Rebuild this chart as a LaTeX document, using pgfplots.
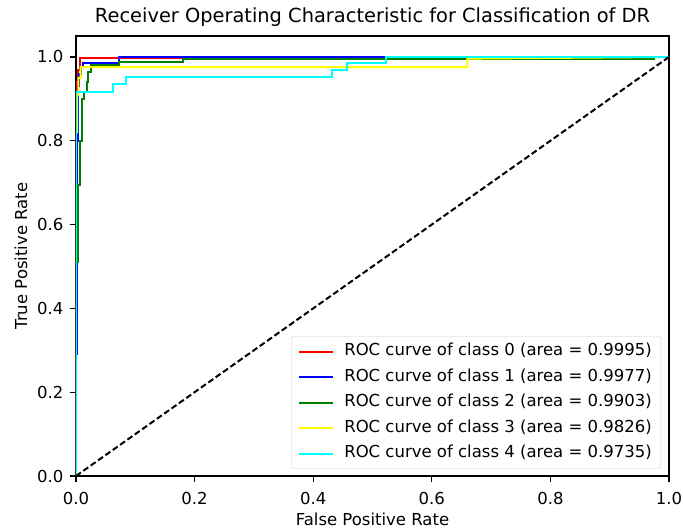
\documentclass[border=0pt]{standalone}
\usepackage{fontspec}
\setmainfont{DejaVu Sans}
\usepackage{pgfplots}
\pgfplotsset{compat=1.18}

\definecolor{mplgreen}{rgb}{0,0.5,0}
\definecolor{purered}{rgb}{1,0,0}
\definecolor{pureblue}{rgb}{0,0,1}
\definecolor{pureyellow}{rgb}{1,1,0}
\definecolor{purecyan}{rgb}{0,1,1}
\newcommand{\lbl}{\fontsize{16.5}{19.8}\selectfont}

\begin{document}
\begin{tikzpicture}
\begin{axis}[
    scale only axis,
    width=593pt, height=440pt,
    xmin=0, xmax=1, ymin=0, ymax=1.05,
    xtick={0,0.2,0.4,0.6,0.8,1.0},
    ytick={0,0.2,0.4,0.6,0.8,1.0},
    minor tick num=0,
    tick pos=left,
    tick align=outside,
    major tick length=6pt,
    tick style={black, line width=1.3pt},
    axis line style={black, line width=1.3pt},
    /pgf/number format/.cd, fixed, fixed zerofill, precision=1, assume math mode=true,
    /pgfplots/.cd,
    ticklabel style={font=\lbl},
    xticklabel style={anchor=north, yshift=-7pt},
    yticklabel style={anchor=east, xshift=-3pt},
    title={Receiver Operating Characteristic for Classification of DR},
    title style={font=\fontsize{19.4}{23}\selectfont, at={(axis description cs:0.5,1.016)}, anchor=base},
    xlabel={False Positive Rate},
    xlabel style={font=\lbl, at={(axis description cs:0.5,-0.1136)}, anchor=base},
    ylabel={True Positive Rate},
    ylabel style={font=\lbl, at={(axis description cs:-0.0826,0.5)}, anchor=base},
    legend cell align=left,
    legend image code/.code={\draw[#1] (0pt,0pt) -- (34pt,0pt);},
    legend style={font=\lbl, at={(axis description cs:1,0)}, anchor=south east,
        xshift=-8pt, yshift=7pt, draw=black!20, rounded corners=2.5pt,
        fill=white, fill opacity=0.8, text opacity=1,
        inner xsep=7pt, inner ysep=5.5pt, row sep=6pt, column sep=8pt,
        nodes={inner sep=2pt, text height=12pt, text depth=3.5pt}},
    every axis plot/.append style={line width=2pt},
]
% class 0
\addplot[purered] coordinates {
    (0,0) (0,0.6) (0.002,0.6) (0.002,0.94) (0.004,0.94) (0.004,0.97)
    (0.006,0.97) (0.006,0.998) (0.18,0.998) (0.18,1) (1,1)
};
\addlegendentry{ROC curve of class 0 (area = 0.9995)}
% class 1
\addplot[pureblue] coordinates {
    (0,0) (0,0.29) (0.002,0.29) (0.002,0.8) (0.003,0.8) (0.003,0.93)
    (0.005,0.93) (0.005,0.96) (0.008,0.96) (0.008,0.975) (0.012,0.975)
    (0.012,0.986) (0.072,0.986) (0.072,1) (1,1)
};
\addlegendentry{ROC curve of class 1 (area = 0.9977)}
% class 2
\addplot[mplgreen] coordinates {
    (0,0) (0,0.51) (0.003,0.51) (0.003,0.695) (0.006,0.695) (0.006,0.8)
    (0.01,0.8) (0.01,0.9) (0.014,0.9) (0.014,0.917) (0.018,0.917)
    (0.018,0.94) (0.02,0.94) (0.02,0.963) (0.025,0.963) (0.025,0.98)
    (0.072,0.98) (0.072,0.988) (0.18,0.988) (0.18,0.994) (0.975,0.994)
    (0.975,1) (1,1)
};
\addlegendentry{ROC curve of class 2 (area = 0.9903)}
% class 3
\addplot[pureyellow] coordinates {
    (0,0) (0,0.82) (0.002,0.82) (0.002,0.91) (0.004,0.91) (0.004,0.95)
    (0.008,0.95) (0.008,0.976) (0.66,0.976) (0.66,0.996) (1,1)
};
\addlegendentry{ROC curve of class 3 (area = 0.9826)}
% class 4
\addplot[purecyan] coordinates {
    (0,0) (0,0.916) (0.063,0.916) (0.063,0.936) (0.085,0.936) (0.085,0.951)
    (0.431,0.951) (0.431,0.968) (0.457,0.968) (0.457,0.986) (0.523,0.986)
    (0.523,1) (1,1)
};
\addlegendentry{ROC curve of class 4 (area = 0.9735)}
% chance line
\addplot[black, dash pattern=on 6pt off 3pt, forget plot] coordinates {(0,0) (1,1)};
\end{axis}
\pgfresetboundingbox
\path[use as bounding box] (-76pt,-53pt) rectangle (607pt,476pt);
\end{tikzpicture}
\end{document}
